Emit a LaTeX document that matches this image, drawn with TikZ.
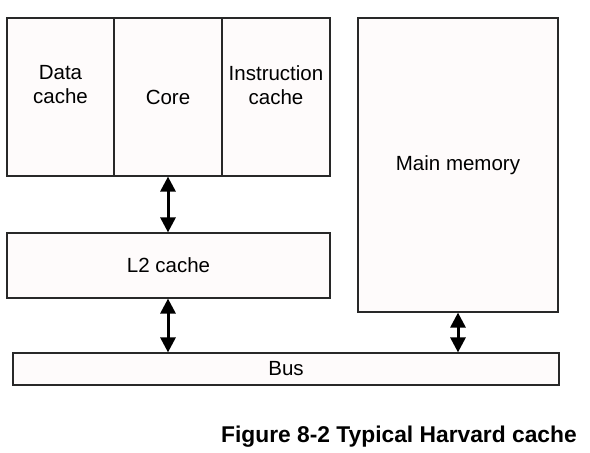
\documentclass[tikz,border=0pt]{standalone}
\usepackage{fontspec}
\setmainfont{Liberation Sans}
\usetikzlibrary{arrows.meta,positioning}
\definecolor{boxfill}{RGB}{254,251,251}
\definecolor{boxline}{RGB}{40,40,40}
\tikzset{
    block/.style={draw=boxline,line width=1.2pt,fill=boxfill,rectangle,inner sep=0pt,
        align=center,font=\fontsize{20.5}{24}\selectfont},
    twoline/.style={label={[align=center,font=\fontsize{20.5}{24}\selectfont,yshift=12pt]center:#1}},
    busarr/.style={{Triangle[width=15pt,length=15pt]}-{Triangle[width=15pt,length=15pt]},line width=3pt},
}

\begin{document}
\begin{tikzpicture}[x=1pt,y=-1pt]
    \useasboundingbox (0,0) rectangle (590,453);

    % processor side
    \node[block,minimum width=107pt,minimum height=158pt,twoline={Data\\cache}] (dcache) at (60.5,97) {};
    \node[block,minimum width=108pt,minimum height=158pt] (core) at (168,97) {Core};
    \node[block,minimum width=108pt,minimum height=158pt,twoline={Instruction\\cache}] (icache) at (276,97) {};
    \node[block,minimum width=323pt,minimum height=65pt] (l2) at (168.5,265.5) {L2 cache};

    % memory and bus
    \node[block,minimum width=200pt,minimum height=294pt] (mem) at (458,165) {Main memory};
    \node[block,minimum width=546pt,minimum height=32pt] (bus) at (286,369) {Bus};

    \draw[busarr] (core.south) -- (core.south |- l2.north);
    \draw[busarr] (core.south |- l2.south) -- (core.south |- bus.north);
    \draw[busarr] (mem.south) -- (mem.south |- bus.north);

    \node[anchor=east,inner sep=0pt,font=\fontsize{22.8}{26}\selectfont\bfseries] (caption) at (577,437) {Figure 8-2 Typical Harvard cache};
\end{tikzpicture}
\end{document}
